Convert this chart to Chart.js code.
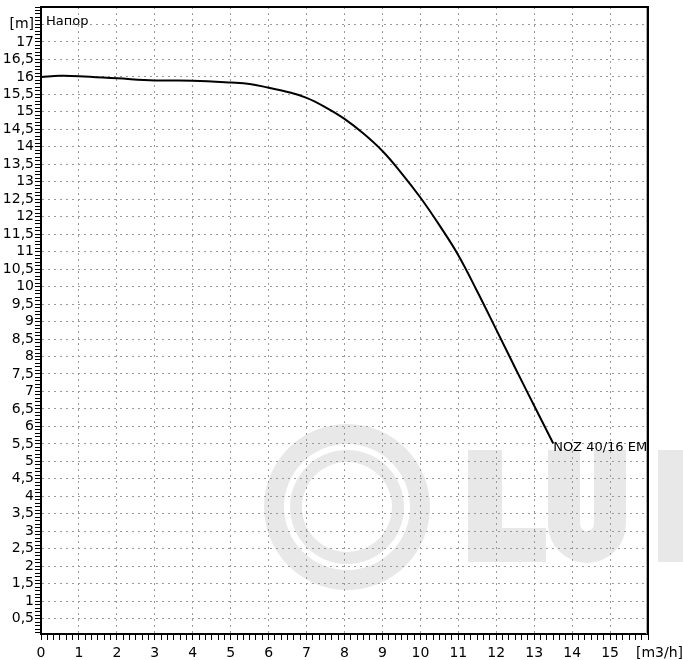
<!DOCTYPE html>
<html>
<head>
<meta charset="utf-8">
<script src="https://cdn.jsdelivr.net/npm/chart.js@4.4.0/dist/chart.umd.min.js"></script>
<style>
  html, body { margin: 0; padding: 0; background: #fff; }
  #wrap { width: 683px; height: 660px; }
</style>
</head>
<body>
<div id="wrap"><canvas id="pump-chart"></canvas></div>
<script>
// Q-H curve of the pump
const flow = [0, 0.5, 1, 2, 3, 4, 5, 5.5, 6, 6.5, 7, 7.5, 8, 8.5, 9, 9.5, 10, 10.5, 11, 11.5, 12, 12.5, 13, 13.5];
const head = [16.0, 16.03, 16.02, 15.96, 15.9, 15.89, 15.84, 15.8, 15.69, 15.57, 15.4, 15.13, 14.8, 14.38, 13.88, 13.25, 12.55, 11.76, 10.9, 9.86, 8.77, 7.67, 6.59, 5.52];
const pumpName = 'NOZ 40/16 EM';
const headTitle = 'Напор';

// labels at 0..16 (x) and 0..17.5 step 0.5 (y)
const xLabels = ['0', '1', '2', '3', '4', '5', '6', '7', '8', '9', '10', '11', '12', '13', '14', '15', '[m3/h]'];
const yLabels = ['', '0,5', '1', '1,5', '2', '2,5', '3', '3,5', '4', '4,5', '5', '5,5', '6', '6,5', '7', '7,5', '8', '8,5',
  '9', '9,5', '10', '10,5', '11', '11,5', '12', '12,5', '13', '13,5', '14', '14,5', '15', '15,5', '16', '16,5', '17', '[m]'];

const FONT = 'DejaVu Sans';
Chart.defaults.font.family = FONT;
Chart.defaults.font.size = 14;
Chart.defaults.color = '#000';

const near = (v, step) => Math.abs(v / step - Math.round(v / step)) < 1e-6;
const gridColor = '#9a9a9a';

// light grey logo behind the grid
const logo = {
  id: 'logo',
  beforeDraw(chart) {
    const c = chart.ctx;
    c.save();
    c.fillStyle = '#e8e8e8';
    c.beginPath();
    c.arc(347, 507, 83, 0, Math.PI * 2);
    c.arc(347, 507, 63, 0, Math.PI * 2, true);
    c.fill();
    c.beginPath();
    c.arc(347, 507, 57, 0, Math.PI * 2);
    c.arc(347, 507, 45, 0, Math.PI * 2, true);
    c.fill();
    // L
    c.fillRect(468, 450, 34, 112);
    c.fillRect(468, 528, 78, 34);
    // U
    c.beginPath();
    c.moveTo(548, 450);
    c.lineTo(548, 524);
    c.arc(587, 524, 39, Math.PI, 0, true);
    c.lineTo(626, 450);
    c.lineTo(594, 450);
    c.lineTo(594, 524);
    c.arc(587, 524, 7, 0, Math.PI, false);
    c.lineTo(580, 450);
    c.closePath();
    c.fill();
    // N
    c.beginPath();
    c.moveTo(658, 450);
    c.lineTo(690, 450);
    c.lineTo(740, 540);
    c.lineTo(740, 562);
    c.lineTo(690, 480);
    c.lineTo(690, 562);
    c.lineTo(658, 562);
    c.closePath();
    c.fill();
    c.restore();
  }
};

// frame on top/right, axis unit and curve label
const extras = {
  id: 'extras',
  afterDraw(chart) {
    const c = chart.ctx;
    const a = chart.chartArea;
    const xs = chart.scales.x;
    const ys = chart.scales.y;
    c.save();
    c.strokeStyle = '#000';
    c.lineWidth = 2;
    c.beginPath();
    c.moveTo(a.left - 1, a.top);
    c.lineTo(a.right, a.top);
    c.lineTo(a.right, a.bottom + 1);
    c.stroke();
    c.strokeStyle = '#aaa';
    c.lineWidth = 1;
    c.beginPath();
    c.moveTo(a.right - 1.5, a.top + 1);
    c.lineTo(a.right - 1.5, a.bottom);
    c.stroke();

    c.fillStyle = '#000';
    c.font = '13px ' + FONT;
    c.textBaseline = 'alphabetic';
    c.textAlign = 'left';
    c.fillText(headTitle, a.left + 5, 25);

    c.font = '14px ' + FONT;
    c.textAlign = 'right';
    c.fillText(xLabels[16], chart.width, 657);

    const n = flow.length - 1;
    const px = xs.getPixelForValue(flow[n]);
    const py = ys.getPixelForValue(head[n]);
    c.font = '13px ' + FONT;
    c.textAlign = 'left';
    c.textBaseline = 'middle';
    c.fillText(pumpName, px, py + 4);
    c.restore();
  }
};

new Chart(document.getElementById('pump-chart'), {
  type: 'line',
  data: {
    datasets: [{
      data: flow.map((q, i) => ({ x: q, y: head[i] })),
      borderColor: '#000',
      borderWidth: 2,
      pointRadius: 0,
      tension: 0.4,
      fill: false
    }]
  },
  options: {
    responsive: true,
    maintainAspectRatio: false,
    animation: false,
    layout: { padding: { top: 7, right: 35, left: 0, bottom: 0 } },
    plugins: { legend: { display: false }, tooltip: { enabled: false } },
    scales: {
      x: {
        type: 'linear',
        min: 0,
        max: 16,
        afterBuildTicks: (scale) => {
          const t = [];
          for (let i = 0; i <= 96; i++) t.push({ value: i / 6 });
          scale.ticks = t;
        },
        afterFit: (scale) => {
          scale.height = 26;
          scale.paddingLeft = 0;
          scale.paddingRight = 0;
        },
        ticks: {
          autoSkip: false,
          maxRotation: 0,
          minRotation: 0,
          padding: 5,
          callback: (v) => {
            const i = Math.round(v);
            return near(v, 1) && i < 16 ? xLabels[i] : '';
          }
        },
        grid: {
          color: (ctx) => ctx.tick && near(ctx.tick.value, 1) ? gridColor : 'rgba(0,0,0,0)',
          tickColor: '#000',
          tickLength: 6,
          tickWidth: 1
        },
        border: { display: true, color: '#000', width: 2, dash: [2, 4] }
      },
      y: {
        type: 'linear',
        min: 0.06,
        max: 18,
        afterBuildTicks: (scale) => {
          const t = [];
          for (let i = 1; i <= 180; i++) t.push({ value: i / 10 });
          scale.ticks = t;
        },
        afterFit: (scale) => {
          scale.width = 41;
          scale.paddingTop = 0;
          scale.paddingBottom = 0;
        },
        ticks: {
          autoSkip: false,
          padding: 1,
          callback: (v) => {
            const i = Math.round(v * 2);
            return near(v, 0.5) && i < yLabels.length ? yLabels[i] : '';
          }
        },
        grid: {
          color: (ctx) => ctx.tick && near(ctx.tick.value, 0.5) ? gridColor : 'rgba(0,0,0,0)',
          tickColor: '#000',
          tickLength: 6,
          tickWidth: 1
        },
        border: { display: true, color: '#000', width: 2, dash: [2, 4] }
      }
    }
  },
  plugins: [logo, extras]
});
</script>
</body>
</html>
